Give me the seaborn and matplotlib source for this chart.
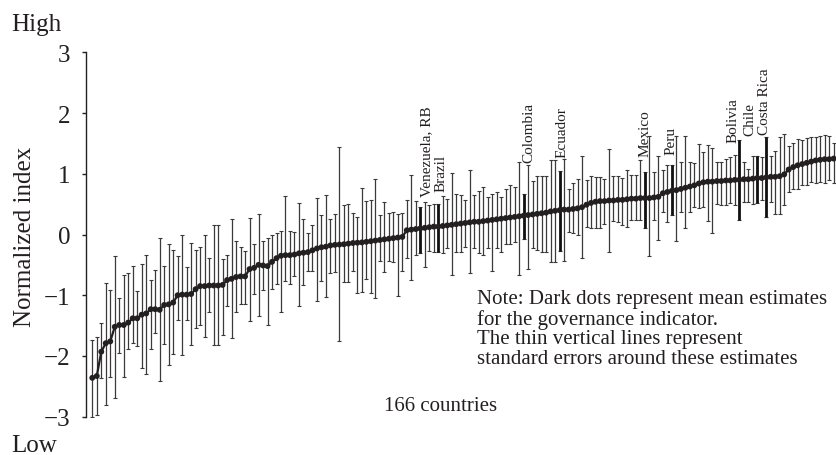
import matplotlib
matplotlib.use("Agg")
import matplotlib.pyplot as plt
import numpy as np
import pandas as pd
import seaborn as sns

# mean estimates, sorted (166 countries)
mean_est = [
    -2.36, -2.33, -1.93, -1.79, -1.76, -1.52, -1.49, -1.49, -1.45, -1.38,
    -1.38, -1.32, -1.30, -1.23, -1.23, -1.24, -1.16, -1.15, -1.12, -1.00,
    -0.99, -0.99, -0.98, -0.90, -0.85, -0.85, -0.84, -0.84, -0.84, -0.83,
    -0.75, -0.73, -0.70, -0.69, -0.69, -0.57, -0.55, -0.50, -0.51, -0.52,
    -0.45, -0.39, -0.35, -0.34, -0.34, -0.33, -0.31, -0.30, -0.29, -0.26,
    -0.23, -0.21, -0.20, -0.18, -0.17, -0.165, -0.16, -0.15, -0.14, -0.135,
    -0.13, -0.12, -0.11, -0.10, -0.09, -0.08, -0.07, -0.06, -0.05, -0.04,
    0.07, 0.08, 0.09, 0.10, 0.11, 0.12, 0.13, 0.13, 0.14, 0.15,
    0.16, 0.17, 0.18, 0.19, 0.20, 0.21, 0.21, 0.22, 0.23, 0.24,
    0.25, 0.26, 0.27, 0.28, 0.29, 0.30, 0.31, 0.32, 0.33, 0.34,
    0.35, 0.36, 0.38, 0.39, 0.40, 0.41, 0.41, 0.42, 0.43, 0.45,
    0.49, 0.52, 0.54, 0.55, 0.55, 0.56, 0.56, 0.57, 0.57, 0.58,
    0.59, 0.59, 0.60, 0.60, 0.60, 0.61, 0.62, 0.68, 0.70, 0.72,
    0.73, 0.75, 0.77, 0.79, 0.81, 0.84, 0.86, 0.87, 0.87, 0.88,
    0.88, 0.89, 0.89, 0.90, 0.90, 0.91, 0.91, 0.92, 0.93, 0.93,
    0.94, 0.95, 0.95, 0.96, 0.99, 1.07, 1.11, 1.14, 1.16, 1.18,
    1.20, 1.22, 1.23, 1.24, 1.24, 1.25,
]

upper = [
    -1.74, -1.68, -1.46, -0.80, -0.91, -0.35, -1.05, -0.66, -0.63, -0.52,
    -0.93, -0.48, -0.33, -0.75, -0.59, -0.05, -0.52, -0.16, -0.26, -0.35,
    -0.01, -0.53, -0.14, -0.26, -0.21, 0.00, -0.38,
    0.15, 0.15, -0.41, -0.34, 0.25, -0.11, -0.20, -0.27, 0.27, -0.15,
    0.33, -0.11, -0.05, 0.00, 0.03, 0.05, 0.64, 0.05, 0.04, 0.52,
    0.25, 0.02, 0.15, 0.60, 0.32, 0.65, 0.26,
    0.33, 1.44, 0.49, 0.51, 0.36, 0.29, 0.76, 0.55, 0.57, 0.91,
    0.32, 0.53, 0.36, 0.37, 0.34, 0.36, 0.56, 0.985, 0.55, 0.45,
    0.53, 0.49, 0.51, 0.51, 0.64, 0.58, 1.02, 0.67,
    0.65, 0.56, 1.06, 0.65, 0.71, 0.78, 0.62, 0.67, 0.70, 0.62,
    0.755, 0.82, 0.78, 1.20, 0.67, 1.14, 0.875, 0.96, 0.96, 0.97,
    1.23, 1.23, 1.04, 1.25, 0.755, 0.84, 0.92,
    1.30, 0.89, 0.96, 0.95, 0.95, 0.92, 1.40, 0.97, 0.97, 0.93,
    1.06, 0.985, 0.985, 1.22, 1.03, 1.62, 1.03, 1.29, 1.06, 1.15,
    1.15, 1.62, 1.19, 1.62, 1.19, 1.18, 1.49, 1.36,
    1.47, 1.42, 1.19, 1.20, 1.25, 1.28, 1.31, 1.55, 1.19, 1.08,
    1.30, 1.29, 1.28, 1.60, 1.29, 1.38, 1.60, 1.66, 1.46, 1.51,
    1.58, 1.56, 1.59, 1.60, 1.60, 1.63, 1.64, 1.62, 1.51,
]

lower = [
    -3.01, -2.98, -2.36, -2.80, -2.34, -2.70, -1.95, -2.34, -1.89, -1.79,
    -1.83, -2.19, -2.30, -1.88, -1.63, -2.41, -1.81, -2.15, -1.97, -1.40,
    -1.98, -1.41, -1.82, -1.54, -1.49, -1.69, -1.27,
    -1.82, -1.82, -1.66, -1.18, -1.70, -1.27, -1.15, -1.15, -1.42, -0.98,
    -1.35, -0.92, -1.49, -0.89, -0.82, -1.28, -0.76, -0.82, -0.69, -1.17,
    -0.83, -0.60, -0.60, -1.09, -0.77, -1.03, -0.63,
    -0.61, -1.75, -0.79, -0.79, -0.60, -0.97, -0.94, -0.74, -0.97, -1.05,
    -0.44, -0.62, -0.44, -0.46, -1.01, -0.60, -0.39, -0.75, -0.34, -0.30,
    -0.54, -0.27, -0.28, -0.28, -0.31, -0.23, -0.67, -0.28,
    -0.28, -0.20, -0.64, -0.23, -0.31, -0.34, -0.23, -0.60, -0.23, -0.28,
    -0.15, -0.15, -0.12, -0.67, -0.07, -0.56, -0.23, -0.26, -0.28, -0.28,
    -0.46, -0.46, -0.27, -0.44, 0.04, 0.02, -0.01,
    -0.38, 0.13, 0.10, 0.10, 0.10, 0.18, -0.28, 0.22, 0.20, 0.16,
    0.13, 0.235, 0.235, 0.235, 0.10, -0.35, 0.235, -0.09, 0.37, 0.21,
    0.32, -0.11, 0.37, 0.10, 0.37, 0.45, 0.43, 0.45,
    0.22, 0.02, 0.51, 0.48, 0.49, 0.525, 0.48, 0.235, 0.54, 0.54,
    0.51, 0.525, 0.56, 0.29, 0.54, 0.345, 0.33, 0.48, 0.70, 0.755,
    0.755, 0.82, 0.82, 0.865, 0.84, 0.865, 0.855, 0.89, 0.84,
]

label_names = ["Venezuela, RB", "Brazil", "Colombia", "Ecuador", "Mexico",
               "Peru", "Bolivia", "Chile", "Costa Rica"]
label_ranks = [74, 78, 97, 105, 124, 130, 145, 149, 151]

# where the rotated labels sit (x in rank units, y = bottom of text)
label_pos = [(75.4, 0.64), (78.6, 0.72), (98.1, 1.20), (105.5, 1.28),
             (124.1, 1.30), (129.9, 1.33), (143.6, 1.52), (147.3, 1.64),
             (150.6, 1.66)]

df = pd.DataFrame({
    "rank": np.arange(1, len(mean_est) + 1),
    "estimate": mean_est,
    "lower": lower,
    "upper": upper,
})
df["err_lo"] = df["estimate"] - df["lower"]
df["err_hi"] = df["upper"] - df["estimate"]
hl = df[df["rank"].isin(label_ranks)]

sns.set_style("ticks")
plt.rcParams["font.family"] = ["Liberation Serif", "DejaVu Serif"]
plt.rcParams["axes.unicode_minus"] = True

W, H = 837, 456
fig = plt.figure(figsize=(W / 100, H / 100), dpi=100)
ax = fig.add_axes([86 / W, 1 - 417.7 / H, 751 / W, 364.4 / H])

ax.errorbar(df["rank"], df["estimate"], yerr=[df["err_lo"], df["err_hi"]],
            fmt="none", ecolor="#3a3a3a", elinewidth=0.9, capsize=1.1,
            capthick=0.8, zorder=1)
ax.vlines(hl["rank"], hl["lower"], hl["upper"], color="#111111", lw=2.0, zorder=2)
ax.plot(df["rank"], df["estimate"], color="#231f20", lw=1.6, zorder=3)
sns.scatterplot(data=df, x="rank", y="estimate", color="#231f20", s=18,
                edgecolor="none", linewidth=0, ax=ax, zorder=4)

for name, (x, y) in zip(label_names, label_pos):
    ax.text(x, y, name, rotation=90, ha="center", va="bottom", fontsize=11,
            color="#231f20")

ax.text(86.7, -0.89, "Note: Dark dots represent mean estimates\n"
        "for the governance indicator.\n"
        "The thin vertical lines represent\n"
        "standard errors around these estimates",
        ha="left", va="top", fontsize=15, linespacing=1.07, color="#231f20")
ax.text(78.5, -2.81, "166 countries", ha="center", va="center", fontsize=15,
        color="#231f20")

ax.set_xlim(-0.40, 166.75)
ax.set_ylim(-3, 3)
ax.set_yticks([-3, -2, -1, 0, 1, 2, 3])
ax.set_xticks([])
ax.set_xlabel("")
ax.set_ylabel("Normalized index", fontsize=18, color="#231f20")
ax.yaxis.set_label_coords(-0.066, 0.495)
ax.tick_params(axis="y", direction="out", length=3, width=1, pad=8,
               labelsize=18, colors="#231f20")
sns.despine(ax=ax, bottom=True)
ax.spines["left"].set_linewidth(1)
ax.spines["left"].set_color("#231f20")

fig.text(11 / W, 1 - 14 / H, "High", ha="left", va="top", fontsize=18,
         color="#231f20")
fig.text(11 / W, 1 - 435 / H, "Low", ha="left", va="top", fontsize=18,
         color="#231f20")

fig.savefig("out.png", dpi=100)
